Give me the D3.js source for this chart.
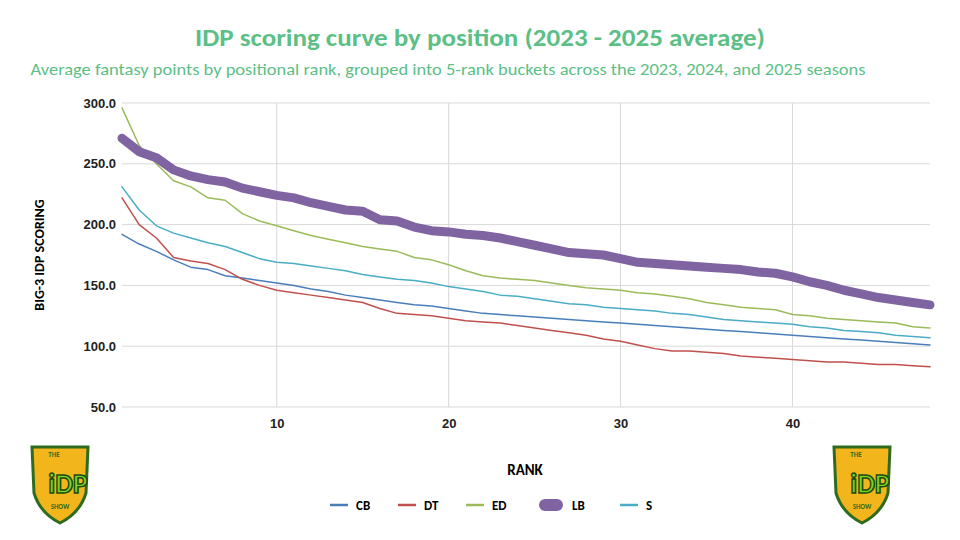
<!DOCTYPE html>
<html><head><meta charset="utf-8">
<script src="https://cdn.jsdelivr.net/npm/d3@7"></script>
<style>body{margin:0;background:#fff;font-family:Calibri,"Liberation Sans",sans-serif}</style>
</head><body><svg id="c" width="960" height="540"></svg>
<script>
// ranks 1..48
const ranks = d3.range(1, 49);
const cb = [192,184,178,171,165,163,158,156,154,152,150,147,145,142,140,138,136,134,133,131,129,127,126,125,124,123,122,121,120,119,118,117,116,115,114,113,112,111,110,109,108,107,106,105,104,103,102,101];
const dt = [222,200,189,173,170,168,163,155,150,146,144,142,140,138,136,131,127,126,125,123,121,120,119,117,115,113,111,109,106,104,101,98,96,96,95,94,92,91,90,89,88,87,87,86,85,85,84,83];
const ed = [296,265,250,236,231,222,220,209,203,199,195,191,188,185,182,180,178,173,171,167,162,158,156,155,154,152,150,148,147,146,144,143,141,139,136,134,132,131,130,126,125,123,122,121,120,119,116,115];
const lb = [271,260,255,245,240,237,235,230,227,224,222,218,215,212,211,204,203,198,195,194,192,191,189,186,183,180,177,176,175,172,169,168,167,166,165,164,163,161,160,157,153,150,146,143,140,138,136,134];
const s = [231,212,199,193,189,185,182,177,172,169,168,166,164,162,159,157,155,154,152,149,147,145,142,141,139,137,135,134,132,131,130,129,127,126,124,122,121,120,119,118,116,115,113,112,111,109,108,107];
const yTicks = [50,100,150,200,250,300];
const xTicks = [10,20,30,40];

const series = [
  {name:"CB", v:cb, color:"#4a7ebb", w:1.5},
  {name:"DT", v:dt, color:"#c0504d", w:1.5},
  {name:"ED", v:ed, color:"#9bbb59", w:1.5},
  {name:"LB", v:lb, color:"#8064a2", w:9},
  {name:"S",  v:s,  color:"#4bacc6", w:1.5}
];

const svg = d3.select("#c");
const x = d3.scaleLinear().domain([1,48]).range([122,930]);
const y = d3.scaleLinear().domain([50,300]).range([407,103]);

svg.append("text").attr("x",480).attr("y",46).attr("text-anchor","middle")
  .attr("fill","#5cbf86").attr("font-size",25).attr("font-weight","bold")
  .attr("textLength",570).attr("lengthAdjust","spacingAndGlyphs")
  .text("IDP scoring curve by position (2023 - 2025 average)");
svg.append("text").attr("x",448).attr("y",75).attr("text-anchor","middle")
  .attr("fill","#5cbf86").attr("font-size",16)
  .attr("textLength",835).attr("lengthAdjust","spacingAndGlyphs")
  .text("Average fantasy points by positional rank, grouped into 5-rank buckets across the 2023, 2024, and 2025 seasons");

// grid
svg.append("g").selectAll("line").data(yTicks).join("line")
  .attr("x1",122).attr("x2",930).attr("y1",d=>y(d)).attr("y2",d=>y(d))
  .attr("stroke","#d9d9d9");
svg.append("g").selectAll("line").data(xTicks).join("line")
  .attr("x1",d=>x(d)).attr("x2",d=>x(d)).attr("y1",103).attr("y2",407)
  .attr("stroke","#d9d9d9");

const yAxis = svg.append("g").attr("transform","translate(122,0)")
  .call(d3.axisLeft(y).tickValues(yTicks).tickFormat(d3.format(".1f")).tickSize(0).tickPadding(6));
yAxis.select(".domain").remove();
yAxis.selectAll("text").attr("font-size",13).attr("font-weight","bold").attr("fill","#222");
const xAxis = svg.append("g").attr("transform","translate(0,407)")
  .call(d3.axisBottom(x).tickValues(xTicks).tickSize(0).tickPadding(12));
xAxis.select(".domain").remove();
xAxis.selectAll("text").attr("font-size",13).attr("font-weight","bold").attr("fill","#222");

svg.append("text").attr("transform","translate(44,255) rotate(-90)").attr("text-anchor","middle")
  .attr("font-size",14).attr("font-weight","bold").text("BIG-3 IDP SCORING");
svg.append("text").attr("x",525).attr("y",475).attr("text-anchor","middle")
  .attr("font-size",15).attr("font-weight","bold").text("RANK");

const line = d3.line().x((d,i)=>x(ranks[i])).y(d=>y(d));
svg.append("g").selectAll("path").data(series).join("path")
  .attr("d",d=>line(d.v)).attr("fill","none").attr("stroke",d=>d.color)
  .attr("stroke-width",d=>d.w).attr("stroke-linejoin","round").attr("stroke-linecap","round");

// legend
const lx = [330,398,466,542,620];
const lg = svg.append("g").selectAll("g").data(series).join("g")
  .attr("transform",(d,i)=>`translate(${lx[i]},505)`);
lg.append("line").attr("x1",0).attr("x2",18).attr("stroke",d=>d.color).attr("stroke-width",2.5);
lg.append("text").attr("x",d=>d.name==="LB"?30:26).attr("y",5).attr("font-size",13).attr("font-weight","bold").text(d=>d.name);
lg.filter(d=>d.name==="LB").select("line").attr("x1",3).attr("x2",15)
  .attr("stroke-width",12).attr("stroke-linecap","round");

// logo placeholders
function logo(cx){
  const g = svg.append("g").attr("transform",`translate(${cx},483)`);
  g.append("path").attr("d","M-28,-36 L28,-36 L26,10 Q20,30 0,40 Q-20,30 -26,10 Z")
    .attr("fill","#f2b51c").attr("stroke","#2e6b1f").attr("stroke-width",3);
  g.append("text").attr("y",-26).attr("x",-6).attr("text-anchor","middle").attr("font-size",7).attr("font-weight","bold").attr("fill","#2e6b1f").text("THE");
  g.append("text").attr("y",10).attr("x",8).attr("text-anchor","middle").attr("font-size",28).attr("font-weight","bold")
    .attr("fill","#7ed321").attr("stroke","#1b4d12").attr("stroke-width",1.5).text("iDP");
  g.append("text").attr("y",26).attr("text-anchor","middle").attr("font-size",7).attr("font-weight","bold").attr("fill","#2e6b1f").text("SHOW");
}
logo(60); logo(862);
</script></body></html>
